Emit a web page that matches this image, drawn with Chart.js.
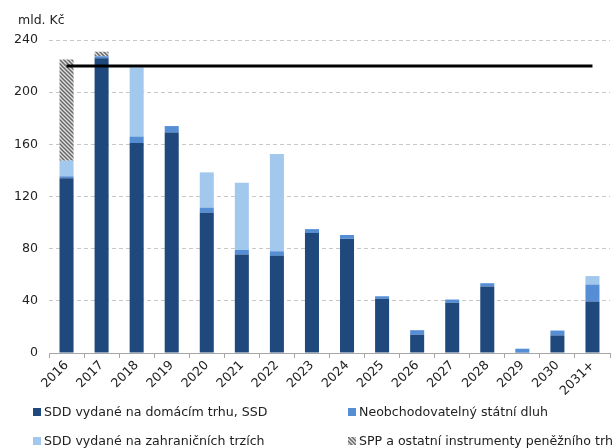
<!DOCTYPE html>
<html>
<head>
<meta charset="utf-8">
<script src="https://cdn.jsdelivr.net/npm/chart.js@4.4.1/dist/chart.umd.min.js"></script>
<style>
  html, body { margin: 0; padding: 0; background: #fff; }
  #wrap { position: relative; width: 613px; height: 448px; font-family: "DejaVu Sans", sans-serif; color: #222; }
  #unit { position: absolute; left: 18px; top: 12px; font-size: 12.5px; }
  .leg { position: absolute; font-size: 12.6px; white-space: nowrap; }
  .leg i { display: inline-block; width: 8px; height: 8px; margin-right: 3px; vertical-align: 0px; }
</style>
</head>
<body>
<div id="wrap">
  <canvas id="chart" width="613" height="448"></canvas>
  <div id="unit">mld. Kč</div>
  <div class="leg" style="left:33px; top:404px;"><i style="background:#1f497d"></i>SDD vydané na domácím trhu, SSD</div>
  <div class="leg" style="left:348px; top:404px;"><i style="background:#558ed5"></i>Neobchodovatelný státní dluh</div>
  <div class="leg" style="left:33px; top:433px;"><i style="background:#a3c8ee"></i>SDD vydané na zahraničních trzích</div>
  <div class="leg" style="left:348px; top:433px;"><i id="hatchBox"></i>SPP a ostatní instrumenty peněžního trhu</div>
</div>
<script>
// ==================== DATA ====================
const categories = ['2016', '2017', '2018', '2019', '2020', '2021', '2022', '2023',
                    '2024', '2025', '2026', '2027', '2028', '2029', '2030', '2031+'];

// SDD vydané na domácím trhu, SSD
const sddDomaci    = [134, 226, 161, 169, 107.5, 75.5, 74.5, 92, 87.5, 41.5, 14, 38.5, 51, 0.3, 13.5, 39.5];
// Neobchodovatelný státní dluh
const neobchodovatelny = [1.5, 1.5, 5, 5, 4, 3.5, 3.5, 3, 3, 2, 3.5, 2.5, 2.5, 3, 3.5, 13];
// SDD vydané na zahraničních trzích
const sddZahranicni = [12, 0, 53, 0, 27, 51.5, 74.5, 0, 0, 0, 0, 0, 0, 0, 0.5, 6.5];
// SPP a ostatní instrumenty peněžního trhu
const sppOstatni   = [77.5, 3.5, 0, 0, 0, 0, 0, 0, 0, 0, 0, 0, 0, 0, 0, 0];
// Limit (vodorovná čára)
const limit        = categories.map(() => 220);

const yTicks = [0, 40, 80, 120, 160, 200, 240];

// ==================== VZOREK ŠRAFOVÁNÍ ====================
function makeHatch() {
  const c = document.createElement('canvas');
  c.width = 4; c.height = 4;
  const g = c.getContext('2d');
  g.fillStyle = '#e0e0e0';
  g.fillRect(0, 0, 4, 4);
  g.strokeStyle = '#6a6a6a';
  g.lineWidth = 1.5;
  g.beginPath();
  g.moveTo(-1, -1); g.lineTo(5, 5);
  g.moveTo(3, -1); g.lineTo(5, 1);
  g.moveTo(-1, 3); g.lineTo(1, 5);
  g.stroke();
  return c;
}
const hatchCanvas = makeHatch();
const ctx = document.getElementById('chart').getContext('2d');
const hatch = ctx.createPattern(hatchCanvas, 'repeat');
document.getElementById('hatchBox').style.background = 'url(' + hatchCanvas.toDataURL() + ')';

// ==================== GRAF ====================
const barBase = { type: 'bar', stack: 'dluh', barPercentage: 0.4, categoryPercentage: 1, borderWidth: 0, order: 1 };
const tickFont = { family: 'DejaVu Sans', size: 12.6 };

new Chart(ctx, {
  data: {
    labels: categories,
    datasets: [
      { ...barBase, label: 'SDD vydané na domácím trhu, SSD', data: sddDomaci, backgroundColor: '#1f497d' },
      { ...barBase, label: 'Neobchodovatelný státní dluh', data: neobchodovatelny, backgroundColor: '#558ed5' },
      { ...barBase, label: 'SDD vydané na zahraničních trzích', data: sddZahranicni, backgroundColor: '#a3c8ee' },
      { ...barBase, label: 'SPP a ostatní instrumenty peněžního trhu', data: sppOstatni, backgroundColor: hatch },
      {
        type: 'line', label: 'limit', data: limit, stack: 'limit', order: 0,
        borderColor: '#000', borderWidth: 3, pointRadius: 0, fill: false
      }
    ]
  },
  options: {
    responsive: false,
    animation: false,
    layout: { padding: { top: 40, right: 3, left: 0, bottom: 0 } },
    plugins: { legend: { display: false }, tooltip: { enabled: false } },
    scales: {
      x: {
        stacked: true,
        offset: true,
        grid: { drawOnChartArea: false, drawTicks: true, tickLength: 5, color: '#a6a6a6', offset: true },
        border: { display: true, color: '#a6a6a6' },
        ticks: {
          color: '#222', font: tickFont,
          minRotation: 45, maxRotation: 45, autoSkip: false, padding: 0
        },
        afterFit: (scale) => { scale.height = 95; }
      },
      y: {
        stacked: true,
        min: 0, max: 240,
        afterBuildTicks: (scale) => { scale.ticks = yTicks.map(v => ({ value: v })); },
        grid: {
          drawTicks: false,
          color: (c) => c.tick.value === 0 ? 'transparent' : '#c8c8c8',
          lineWidth: 1
        },
        border: { display: false, dash: [4, 3] },
        ticks: { color: '#222', font: tickFont, padding: 11 },
        afterFit: (scale) => { scale.width = 49; }
      }
    }
  }
});
</script>
</body>
</html>
